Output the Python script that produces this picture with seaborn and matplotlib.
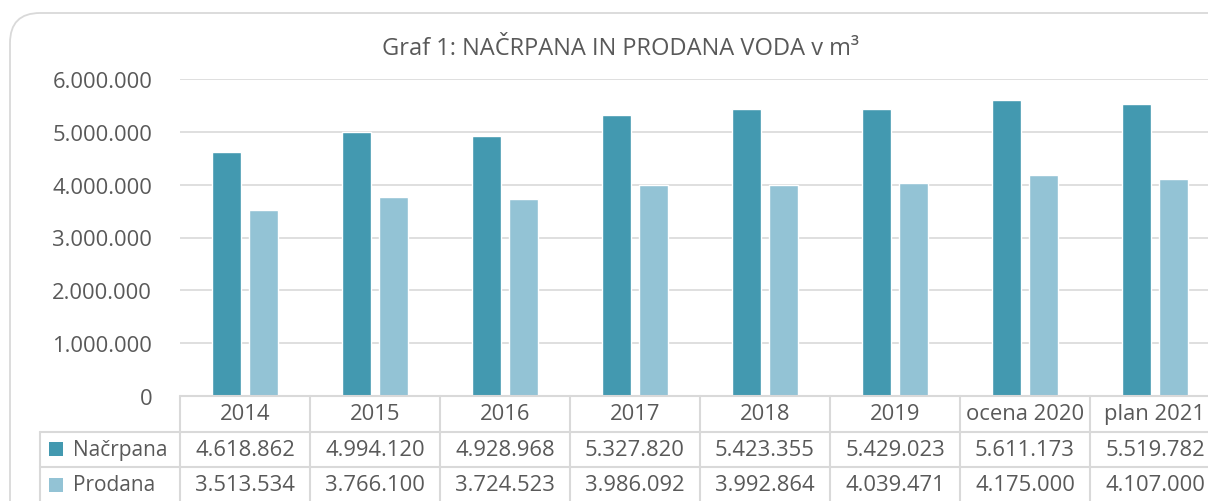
import matplotlib
matplotlib.use('Agg')
import matplotlib.pyplot as plt
import seaborn as sns
import pandas as pd
from matplotlib.patches import FancyBboxPatch
from matplotlib.transforms import IdentityTransform

# data
leta = ['2014', '2015', '2016', '2017', '2018', '2019', 'ocena 2020', 'plan 2021']
nacrpana = [4618862, 4994120, 4928968, 5327820, 5423355, 5429023, 5611173, 5519782]
prodana = [3513534, 3766100, 3724523, 3986092, 3992864, 4039471, 4175000, 4107000]
serije = ['Načrpana', 'Prodana']
barve = ['#4399b0', '#93c3d5']

df = pd.DataFrame({
    'leto': leta * 2,
    'serija': [serije[0]] * len(leta) + [serije[1]] * len(leta),
    'vrednost': nacrpana + prodana,
})

sns.set_theme(style='white')
plt.rcParams['font.family'] = ['Open Sans', 'DejaVu Sans']
siva = '#595959'
crta = '#d9d9d9'
fs = 15.8

def fmt(v):
    return f'{v:,}'.replace(',', '.')

W, H = 1208, 502
fig = plt.figure(figsize=(W / 100, H / 100), dpi=100)

# main bar axes
ax = fig.add_axes([180 / W, (H - 397) / H, 1040 / W, (397 - 80) / H])
sns.barplot(data=df, x='leto', y='vrednost', hue='serija', palette=barve,
            width=0.57, gap=0.22, legend=False, ax=ax, saturation=1)
ax.set_xlim(-0.5, 7.5)
ax.set_ylim(0, 6000000)
ax.set_yticks(range(0, 6000001, 1000000))
ax.set_yticklabels([fmt(v) for v in range(0, 6000001, 1000000)], fontsize=fs, color=siva)
ax.tick_params(axis='y', length=0, pad=20)
ax.set_xticks([])
ax.set_xlabel('')
ax.set_ylabel('')
ax.grid(axis='y', color=crta, lw=1.2)
ax.set_axisbelow(True)
for s in ax.spines.values():
    s.set_visible(False)

# data table below
tb = fig.add_axes([180 / W, (H - 503.5) / H, 1040 / W, 106.5 / H])
tb.set_xlim(-0.5, 7.5)
tb.set_ylim(3, 0)
tb.axis('off')
lx = -0.5 - 140 / 130
tb.plot([-0.5, 7.5], [0, 0], color=crta, lw=1.5, clip_on=False)
for y in [1, 2]:
    tb.plot([lx, 7.5], [y, y], color=crta, lw=1.5, clip_on=False)
for i in range(len(leta) + 1):
    tb.plot([i - 0.5, i - 0.5], [0, 3], color=crta, lw=1.5, clip_on=False)
tb.plot([lx, lx], [1, 3], color=crta, lw=1.5, clip_on=False)

for i, l in enumerate(leta):
    tb.text(i, 0.5, l, ha='center', va='center', fontsize=fs, color=siva)
for r, (ime, vals, b) in enumerate(zip(serije, [nacrpana, prodana], barve)):
    yy = r + 1.5
    tb.scatter([-0.5 - 124 / 130], [yy], marker='s', s=90, color=b, clip_on=False, lw=0)
    tb.text(-0.5 - 107 / 130, yy, ime, ha='left', va='center', fontsize=15, color=siva)
    for i, v in enumerate(vals):
        tb.text(i, yy, fmt(v), ha='center', va='center', fontsize=fs, color=siva)

# title
fig.text(620 / W, 1 - 49 / H, 'Graf 1: NAČRPANA IN PRODANA VODA v m³',
         ha='center', va='center', fontsize=17, color=siva)

# rounded chart border
okvir = FancyBboxPatch((10, -30), 1230, H - 14 + 30, boxstyle='round,pad=0,rounding_size=30',
                       transform=IdentityTransform(), fill=False, ec=crta, lw=1.3)
fig.add_artist(okvir)

fig.savefig('out.png', dpi=100)
